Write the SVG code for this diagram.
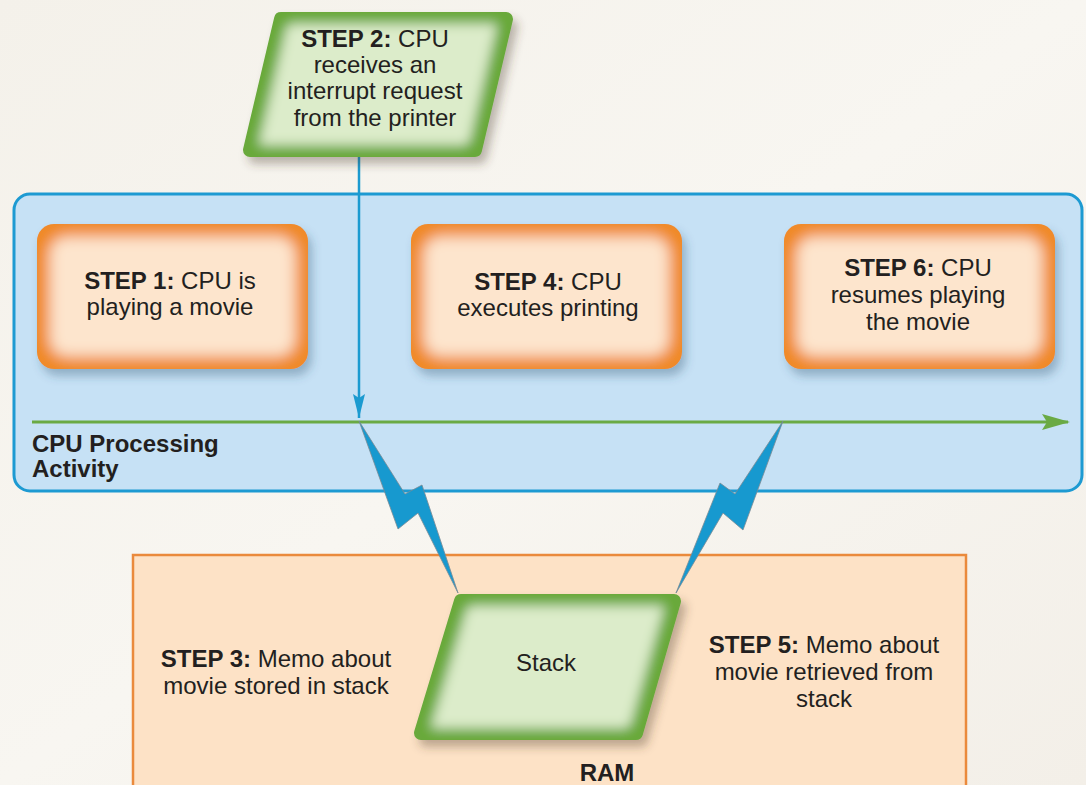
<svg xmlns="http://www.w3.org/2000/svg" width="1086" height="785" viewBox="0 0 1086 785">
<defs>
<style>
.t{font-family:"Liberation Sans",Arial,Helvetica,sans-serif;font-size:24px;fill:#231f20;text-anchor:middle}
.b{font-weight:bold}
.ob{fill:#f08a2c;filter:url(#glowO)}
.gb{fill:#69a93b;stroke:#69a93b;stroke-width:14;stroke-linejoin:round;filter:url(#glowG)}
.bolt{fill:#1799cf;stroke:#7a8a94;stroke-width:0.8;stroke-linejoin:miter}
</style>
<linearGradient id="bg" x1="0" y1="0" x2="1" y2="1">
<stop offset="0" stop-color="#f4f1ea"/>
<stop offset="0.5" stop-color="#f8f6f1"/>
<stop offset="1" stop-color="#f3efe8"/>
</linearGradient>
<filter id="glowO" x="-10%" y="-10%" width="125%" height="130%">
<feMorphology in="SourceAlpha" operator="erode" radius="13" result="er"/>
<feGaussianBlur in="er" stdDeviation="7" result="bl"/>
<feFlood flood-color="#fde5cd"/>
<feComposite in2="bl" operator="in" result="inner"/>
<feComposite in="inner" in2="SourceAlpha" operator="in" result="inner2"/>
<feGaussianBlur in="SourceAlpha" stdDeviation="5" result="sh"/>
<feOffset in="sh" dx="4" dy="7" result="sho"/>
<feFlood flood-color="#2f5470" flood-opacity="0.35"/>
<feComposite in2="sho" operator="in" result="shadow"/>
<feMerge><feMergeNode in="shadow"/><feMergeNode in="SourceGraphic"/><feMergeNode in="inner2"/></feMerge>
</filter>
<filter id="glowG" x="-15%" y="-15%" width="135%" height="140%">
<feMorphology in="SourceAlpha" operator="erode" radius="12" result="er"/>
<feGaussianBlur in="er" stdDeviation="6" result="bl"/>
<feFlood flood-color="#dcecca"/>
<feComposite in2="bl" operator="in" result="inner"/>
<feComposite in="inner" in2="SourceAlpha" operator="in" result="inner2"/>
<feGaussianBlur in="SourceAlpha" stdDeviation="5" result="sh"/>
<feOffset in="sh" dx="5" dy="7" result="sho"/>
<feFlood flood-color="#4a3a2a" flood-opacity="0.35"/>
<feComposite in2="sho" operator="in" result="shadow"/>
<feMerge><feMergeNode in="shadow"/><feMergeNode in="SourceGraphic"/><feMergeNode in="inner2"/></feMerge>
</filter>
<marker id="arrBlue" viewBox="0 0 24 12" refX="24" refY="6" markerWidth="24" markerHeight="12" markerUnits="userSpaceOnUse" orient="auto">
<path d="M0,0 L24,6 L0,12 L4,6 Z" fill="#1b9ad0"/>
</marker>
<marker id="arrGreen" viewBox="0 0 28 16" refX="26" refY="8" markerWidth="28" markerHeight="16" markerUnits="userSpaceOnUse" orient="auto">
<path d="M0,0 L28,8 L0,16 L5,8 Z" fill="#6aaa44"/>
</marker>
</defs>

<rect x="0" y="0" width="1086" height="785" fill="url(#bg)"/>

<g id="cpu-panel">
<rect x="14" y="194" width="1068" height="297" rx="16" fill="#c6e1f5" stroke="#1d9ad2" stroke-width="3"/>
<text class="t b" style="text-anchor:start" x="32" y="452">CPU Processing</text>
<text class="t b" style="text-anchor:start" x="32" y="477">Activity</text>
</g>

<g id="ram">
<rect x="133" y="555" width="833" height="245" fill="#fde2c6" stroke="#ea8a3c" stroke-width="2.5"/>
<text class="t b" x="607" y="781">RAM</text>
</g>

<g id="step1">
<rect class="ob" x="37" y="224" width="271" height="145" rx="17"/>
<text class="t" x="170" y="289"><tspan class="b">STEP 1:</tspan> CPU is</text>
<text class="t" x="170" y="315">playing a movie</text>
</g>

<g id="step4">
<rect class="ob" x="411" y="224" width="271" height="145" rx="17"/>
<text class="t" x="548" y="290"><tspan class="b">STEP 4:</tspan> CPU</text>
<text class="t" x="548" y="316">executes printing</text>
</g>

<g id="step6">
<rect class="ob" x="784" y="224" width="271" height="145" rx="17"/>
<text class="t" x="918" y="276"><tspan class="b">STEP 6:</tspan> CPU</text>
<text class="t" x="918" y="303">resumes playing</text>
<text class="t" x="918" y="330">the movie</text>
</g>

<g id="connectors">
<line x1="32" y1="422" x2="1068" y2="422" stroke="#6aaa44" stroke-width="3" marker-end="url(#arrGreen)"/>
<line x1="359" y1="150" x2="359" y2="418" stroke="#1b9ad0" stroke-width="2.5" marker-end="url(#arrBlue)"/>
<polygon class="bolt" points="359,421 405,494 422,485 458,593 418,513 398,529"/>
<polygon class="bolt" points="783,421 735,494 720,483 676,593 723,513 743,530"/>
</g>

<g id="step2">
<polygon class="gb" points="281,19 506,19 475,150 250,150"/>
<text class="t" x="375" y="47"><tspan class="b">STEP 2:</tspan> CPU</text>
<text class="t" x="375" y="73">receives an</text>
<text class="t" x="375" y="99">interrupt request</text>
<text class="t" x="375" y="126">from the printer</text>
</g>

<g id="stack">
<polygon class="gb" points="461,601 674,601 636,733 421,733"/>
<text class="t" x="546" y="671">Stack</text>
</g>

<g id="step3">
<text class="t" x="276" y="667"><tspan class="b">STEP 3:</tspan> Memo about</text>
<text class="t" x="276" y="694">movie stored in stack</text>
</g>

<g id="step5">
<text class="t" x="824" y="653"><tspan class="b">STEP 5:</tspan> Memo about</text>
<text class="t" x="824" y="680">movie retrieved from</text>
<text class="t" x="824" y="707">stack</text>
</g>
</svg>
